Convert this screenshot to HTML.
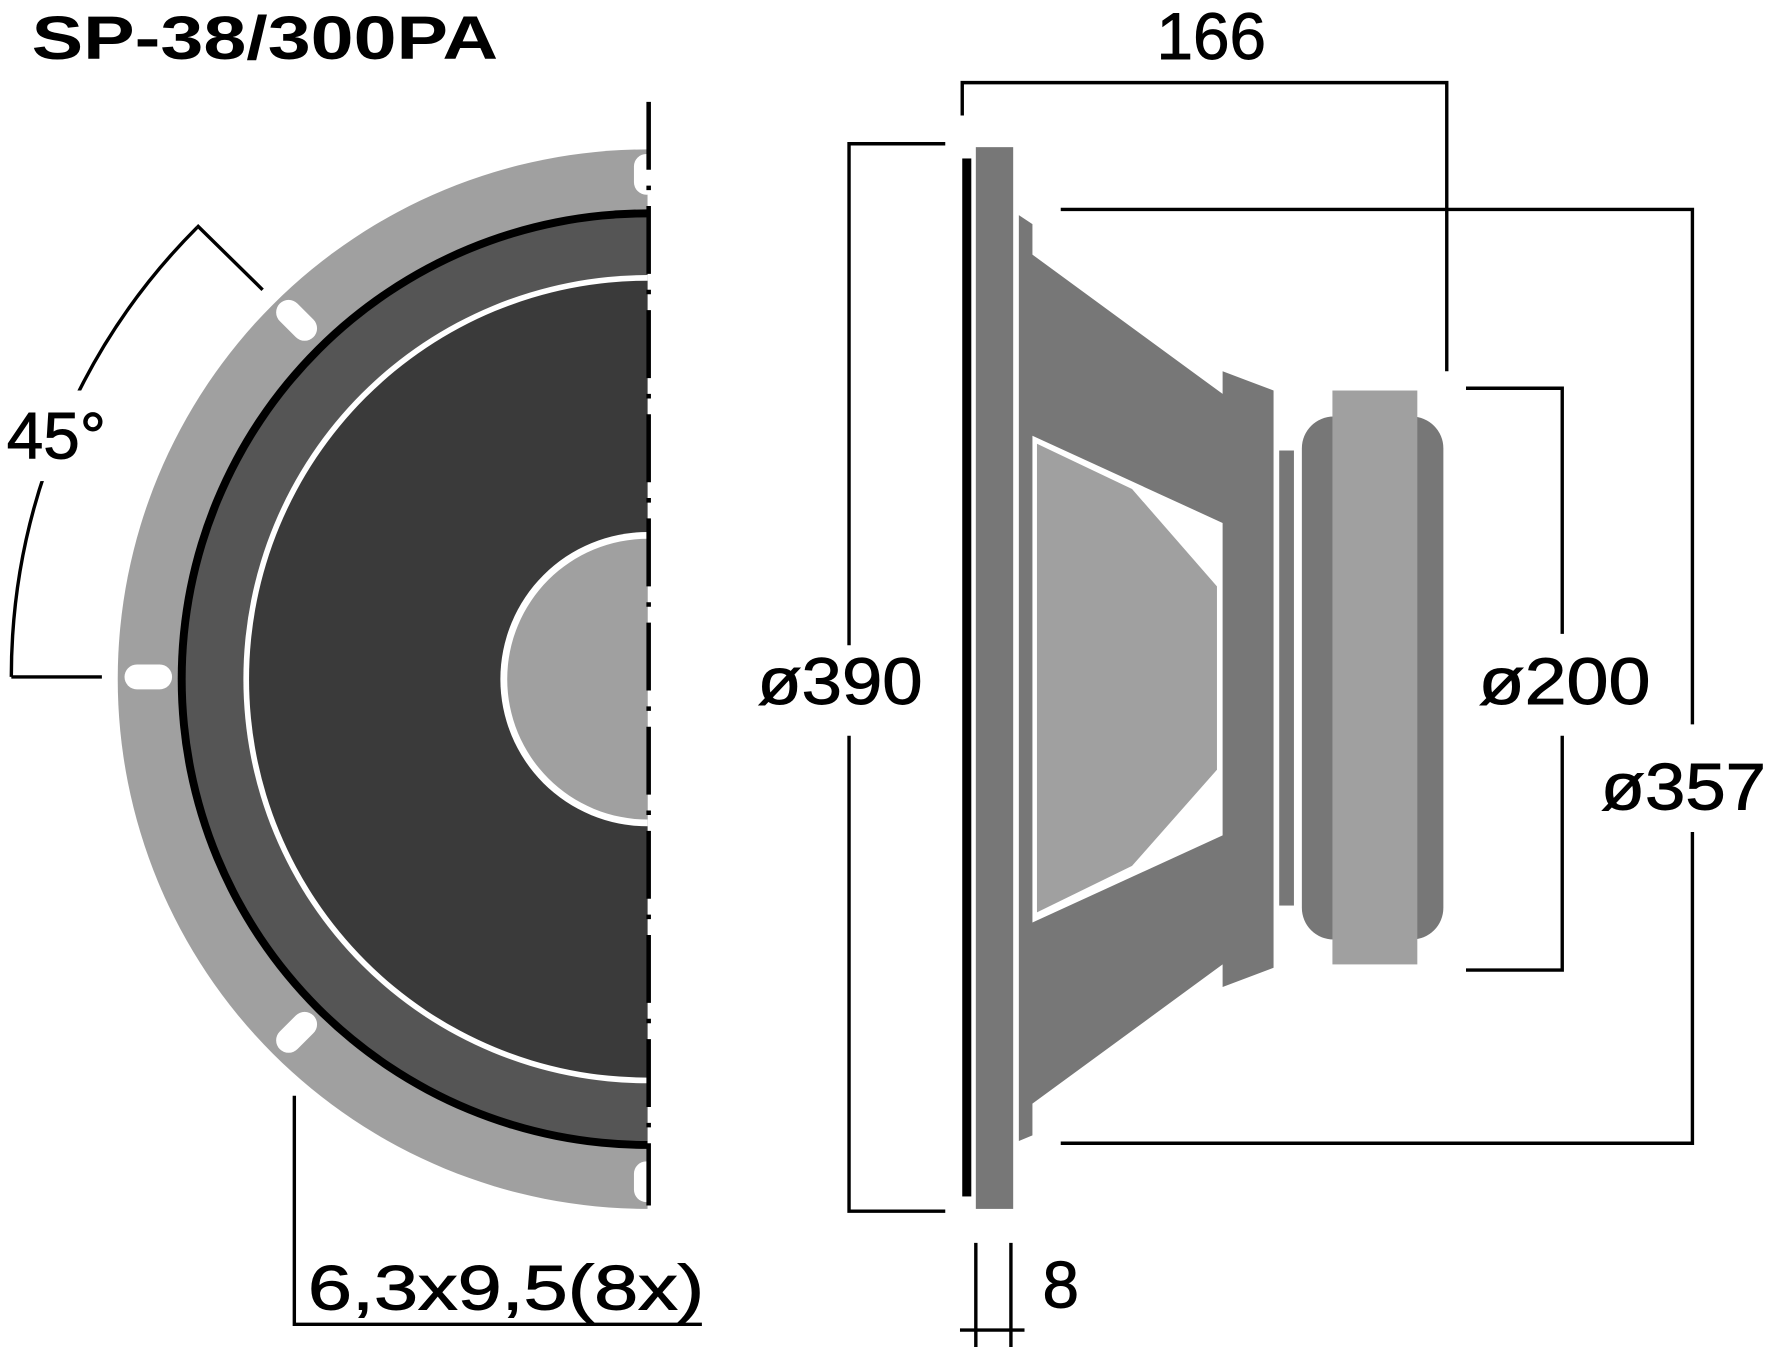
<!DOCTYPE html>
<html><head><meta charset="utf-8"><style>html,body{margin:0;padding:0;background:#fff}svg{display:block}</style></head>
<body>
<svg width="1766" height="1347" viewBox="0 0 1560 1190" preserveAspectRatio="none" xmlns="http://www.w3.org/2000/svg" font-family="Liberation Sans, sans-serif">
<text x="28" y="52" font-size="54" font-weight="bold" textLength="412" lengthAdjust="spacingAndGlyphs">SP-38/300PA</text>
<g>
<path d="M572,132 A468,468 0 0 0 572,1068 Z" fill="#a0a0a0"/>
<path d="M572,185 A415,415 0 0 0 572,1015 Z" fill="#000"/>
<path d="M572,192 A408,408 0 0 0 572,1008 Z" fill="#555"/>
<path d="M572,243 A357,357 0 0 0 572,957 Z" fill="#fff"/>
<path d="M572,248 A352,352 0 0 0 572,952 Z" fill="#3a3a3a"/>
<path d="M572,470 A130,130 0 0 0 572,730 Z" fill="#fff"/>
<path d="M572,476 A124,124 0 0 0 572,724 Z" fill="#a0a0a0"/>
<rect x="110" y="587" width="42" height="22" rx="11" fill="#fff"/>
<rect x="241" y="272" width="42" height="22" rx="11" fill="#fff" transform="rotate(45 262 283)"/>
<rect x="241" y="901" width="42" height="22" rx="11" fill="#fff" transform="rotate(-45 262 912)"/>
<rect x="560" y="136" width="22" height="36" rx="11" fill="#fff"/>
<rect x="560" y="1026" width="22" height="36" rx="11" fill="#fff"/>
<line x1="573" y1="90" x2="573" y2="1065" stroke="#000" stroke-width="4" stroke-dasharray="60,14,4,14"/>
</g>
<g fill="none" stroke="#000" stroke-width="3">
<line x1="10" y1="598" x2="90" y2="598"/>
<path d="M10,598 A562,562 0 0 1 174,201"/>
<line x1="174" y1="199" x2="232" y2="256"/>
</g>
<rect x="0" y="345" width="115" height="80" fill="#fff"/>
<text x="6" y="405" font-size="58" stroke="#000" stroke-width="0.8">45°</text>
<g fill="none" stroke="#000" stroke-width="3">
<polyline points="260,968 260,1170 620,1170"/>
</g>
<text x="272" y="1157" font-size="56" stroke="#000" stroke-width="0.8" textLength="350" lengthAdjust="spacingAndGlyphs">6,3x9,5(8x)</text>
<g>
<rect x="850" y="140" width="8" height="917" fill="#000"/>
<rect x="862" y="130" width="33" height="938" fill="#777"/>
<polygon points="900,190 912,198 912,225 1080,348 1080,328 1125,345 1125,855 1080,872 1080,852 912,975 912,1003 900,1008" fill="#777"/>
<polygon points="912,385 1080,462 1080,738 912,815" fill="#fff"/>
<polygon points="916,392 1000,432 1075,518 1075,680 1000,765 916,806" fill="#a0a0a0"/>
<rect x="1130" y="398" width="13" height="402" fill="#777"/>
<rect x="1150" y="368" width="125" height="462" rx="28" fill="#777"/>
<rect x="1177" y="345" width="75" height="507" fill="#a0a0a0"/>
</g>
<g fill="none" stroke="#000" stroke-width="3">
<polyline points="850,102 850,73 1278,73 1278,328"/>
<polyline points="835,127 750,127 750,570"/>
<polyline points="750,650 750,1070 835,1070"/>
<polyline points="937,185 1495,185 1495,640"/>
<polyline points="1495,735 1495,1010 937,1010"/>
<polyline points="1295,343 1380,343 1380,560"/>
<polyline points="1380,650 1380,857 1295,857"/>
<line x1="862" y1="1098" x2="862" y2="1190"/>
<line x1="893" y1="1098" x2="893" y2="1190"/>
<line x1="848" y1="1175" x2="905" y2="1175"/>
</g>
<g font-size="58" stroke="#000" stroke-width="0.8" text-anchor="middle">
<text x="1070" y="52">166</text>
<text x="742" y="622" textLength="146" lengthAdjust="spacingAndGlyphs">ø390</text>
<text x="1487" y="715" textLength="146" lengthAdjust="spacingAndGlyphs">ø357</text>
<text x="1382" y="622" textLength="152" lengthAdjust="spacingAndGlyphs">ø200</text>
<text x="937" y="1155">8</text>
</g>
</svg>
</body></html>
